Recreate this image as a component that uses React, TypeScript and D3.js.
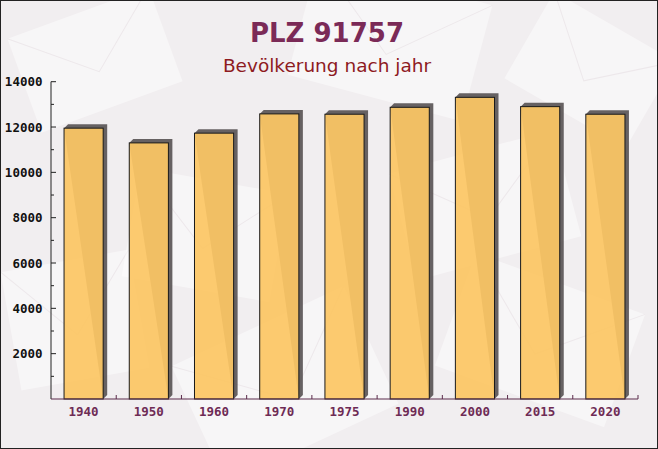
import { useRef, useEffect } from 'react'
import * as d3 from 'd3'

const years = ['1940', '1950', '1960', '1970', '1975', '1990', '2000', '2015', '2020']
const population = [11950, 11300, 11730, 12580, 12565, 12870, 13310, 12900, 12565]
const yTicks = [2000, 4000, 6000, 8000, 10000, 12000, 14000]
const yMinorTicks = [1000, 3000, 5000, 7000, 9000, 11000, 13000]

const title = 'PLZ 91757'
const subtitle = 'Bevölkerung nach jahr'

// faint envelope shapes in the background
const envelopes = [
  { x: 20, y: 10, w: 150, h: 100, r: -20 },
  { x: 300, y: -20, w: 180, h: 120, r: 15 },
  { x: 520, y: 20, w: 140, h: 100, r: 30 },
  { x: 10, y: 260, w: 130, h: 120, r: -10 },
  { x: 190, y: 320, w: 190, h: 130, r: -25 },
  { x: 450, y: 280, w: 180, h: 120, r: 20 },
  { x: 130, y: 180, w: 150, h: 110, r: 10 },
  { x: 400, y: 150, w: 170, h: 110, r: -15 },
]

const W = 658
const H = 449

export default function App() {
  const svgRef = useRef<SVGSVGElement>(null)

  useEffect(() => {
    document.body.style.margin = '0'
    if (!svgRef.current) return
    const svg = d3.select(svgRef.current)
    svg.selectAll('*').remove()

    const margin = { top: 81.7, left: 51 }
    const plotRight = 638
    const plotBottom = 399

    // Background
    svg.append('rect').attr('width', W).attr('height', H).attr('fill', '#f1eef0')
    const bg = svg.append('g')
    envelopes.forEach((e) => {
      const g = bg
        .append('g')
        .attr('transform', `translate(${e.x + e.w / 2},${e.y + e.h / 2}) rotate(${e.r})`)
      g.append('rect')
        .attr('x', -e.w / 2)
        .attr('y', -e.h / 2)
        .attr('width', e.w)
        .attr('height', e.h)
        .attr('fill', '#ffffff')
        .attr('opacity', 0.45)
      g.append('path')
        .attr('d', `M${-e.w / 2},${-e.h / 2} L0,${e.h / 8} L${e.w / 2},${-e.h / 2}`)
        .attr('fill', 'none')
        .attr('stroke', '#ede8eb')
        .attr('stroke-width', 1)
    })

    // Titles
    svg.append('text')
      .attr('x', 327)
      .attr('y', 42)
      .attr('text-anchor', 'middle')
      .attr('font-family', 'DejaVu Sans, sans-serif')
      .attr('font-weight', 'bold')
      .attr('font-size', 26)
      .attr('fill', '#7b2a57')
      .text(title)

    svg.append('text')
      .attr('x', 327)
      .attr('y', 72)
      .attr('text-anchor', 'middle')
      .attr('font-family', 'DejaVu Sans, sans-serif')
      .attr('font-size', 18.5)
      .attr('fill', '#8e1b1f')
      .text(subtitle)

    // Scales
    const x = d3.scaleBand().domain(years).range([margin.left, plotRight]).paddingInner(0.4).paddingOuter(0.2)
    const xb = d3.scaleBand().domain(years).range([margin.left, plotRight])
    const y = d3.scaleLinear().domain([0, 14000]).range([plotBottom, margin.top])

    // Bars
    const d = 4
    const bars = svg.append('g')
    years.forEach((yr, i) => {
      const x0 = x(yr)!
      const x1 = x0 + x.bandwidth()
      const yt = y(population[i])
      bars.append('path')
        .attr(
          'd',
          `M${x0},${yt} L${x0 + d},${yt - d} L${x1 + d},${yt - d} L${x1 + d},${plotBottom - d} L${x1},${plotBottom} Z`,
        )
        .attr('fill', '#4d4849')
        .attr('opacity', 0.85)
      bars.append('rect')
        .attr('x', x0)
        .attr('y', yt)
        .attr('width', x.bandwidth())
        .attr('height', plotBottom - yt)
        .attr('fill', '#fcc664')
        .attr('fill-opacity', 0.93)
        .attr('stroke', '#1a1a1a')
        .attr('stroke-width', 1)
    })

    // Y axis
    const yAxis = svg.append('g')
    yAxis.append('line')
      .attr('x1', margin.left)
      .attr('x2', margin.left)
      .attr('y1', y(14000))
      .attr('y2', plotBottom)
      .attr('stroke', '#222')
    yTicks.forEach((t) => {
      yAxis.append('line')
        .attr('x1', margin.left)
        .attr('x2', margin.left + 5)
        .attr('y1', y(t))
        .attr('y2', y(t))
        .attr('stroke', '#222')
      yAxis.append('text')
        .attr('x', margin.left - 8.5)
        .attr('y', y(t))
        .attr('dy', '0.36em')
        .attr('text-anchor', 'end')
        .attr('font-family', 'DejaVu Sans Mono, monospace')
        .attr('font-weight', 'bold')
        .attr('font-size', 12.5)
        .attr('fill', '#111')
        .text(String(t))
    })
    yMinorTicks.forEach((t) => {
      yAxis.append('line')
        .attr('x1', margin.left)
        .attr('x2', margin.left + 3)
        .attr('y1', y(t))
        .attr('y2', y(t))
        .attr('stroke', '#222')
    })

    // X axis
    const xAxis = svg.append('g')
    xAxis.append('line')
      .attr('x1', margin.left)
      .attr('x2', plotRight)
      .attr('y1', plotBottom)
      .attr('y2', plotBottom)
      .attr('stroke', '#5a2a4a')
    years.forEach((yr) => {
      const bx = xb(yr)! + xb.bandwidth()
      xAxis.append('line')
        .attr('x1', bx)
        .attr('x2', bx)
        .attr('y1', plotBottom)
        .attr('y2', plotBottom - 4)
        .attr('stroke', '#5a2a4a')
      xAxis.append('text')
        .attr('x', x(yr)! + x.bandwidth() / 2)
        .attr('y', 416)
        .attr('text-anchor', 'middle')
        .attr('font-family', 'DejaVu Sans Mono, monospace')
        .attr('font-weight', 'bold')
        .attr('font-size', 12.5)
        .attr('fill', '#6e2b55')
        .text(yr)
    })

    // Outer border
    svg.append('rect')
      .attr('x', 0.5)
      .attr('y', 0.5)
      .attr('width', W - 1)
      .attr('height', H - 1)
      .attr('fill', 'none')
      .attr('stroke', '#222')
  }, [])

  return <svg ref={svgRef} width={W} height={H} style={{ display: 'block' }} />
}
